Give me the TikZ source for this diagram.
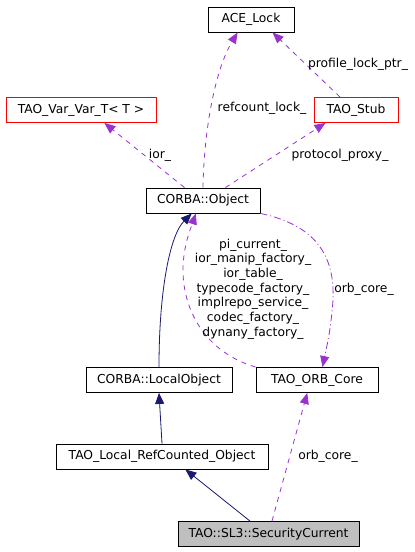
\documentclass[tikz,border=0pt]{standalone}
\usepackage{fontspec}
\setmainfont{DejaVu Sans}
\usetikzlibrary{arrows.meta}
\usetikzlibrary{positioning}
\usepackage{xcolor}
\definecolor{usepurple}{HTML}{9A32CD}
\definecolor{inhnavy}{HTML}{191970}
\definecolor{curgray}{HTML}{BFBFBF}

\begin{document}
\begin{tikzpicture}[x=1pt, y=-1pt, font=\fontsize{12.3}{14.7}\selectfont,
		cls/.style={draw, line width=0.9pt, minimum height=25pt, inner sep=0pt},
		use/.style={usepurple, line width=0.8pt, dash pattern=on 5pt off 5pt, -{Triangle[length=11pt, width=9pt]}},
		usedot/.style={usepurple, line width=0.8pt, dash pattern=on 7pt off 3pt on 1pt off 3pt, -{Triangle[length=11pt, width=9pt]}},
		inh/.style={inhnavy, line width=0.8pt, -{Triangle[length=11pt, width=9pt]}}]
			\useasboundingbox (0,0) rectangle (415,552);
			
			% classes
			\node[cls, minimum width=86pt] (lock) at (251,19.5) {ACE\_Lock};
			\node[cls, draw=red, minimum width=150pt] (varvar) at (81,110) {TAO\_Var\_Var\_T< T >};
			\node[cls, draw=red, minimum width=84pt] (stub) at (356,110) {TAO\_Stub};
			\node[cls, minimum width=114pt] (obj) at (203,200.5) {CORBA::Object};
			\node[cls, minimum width=146pt] (local) at (159,380) {CORBA::LocalObject};
			\node[cls, minimum width=122pt] (core) at (317,380) {TAO\_ORB\_Core};
			\node[cls, minimum width=212pt] (refcnt) at (162,456.5) {TAO\_Local\_RefCounted\_Object};
			\node[cls, fill=curgray, minimum width=181pt] (sec) at (268.5,534) {TAO::SL3::SecurityCurrent};
			
			% usage
			\draw[use] (obj.north) .. controls (204,130) and (215,70) .. (lock.224);
			\draw[use] (stub.141) -- (lock.329);
			\draw[use] (obj.145) -- (varvar.331);
			\draw[use] (obj.30) -- (stub.203);
			\draw[usedot] (obj.south east) .. controls (315,225) and (335,255) .. (333,300) .. controls (331,330) and (326,350) .. (core.67);
			\draw[use] (core.north west) .. controls (205,352) and (183,310) .. (183,270) .. controls (183,245) and (192,225) .. (obj.241);
			\draw[use] (sec.75) -- (core.233);
			
			% inheritance
			\draw[inh] (local.north) .. controls (159,290) and (170,235) .. (obj.229);
			\draw[inh] (refcnt.north) -- (local.south);
			\draw[inh] (sec.145) -- (refcnt.331);
			
			\node at (262,108) {refcount\_lock\_};
			\node at (358,64) {profile\_lock\_ptr\_};
			\node at (160,155) {ior\_};
			\node at (340,155) {protocol\_proxy\_};
			\node[align=center] at (253,289) {pi\_current\_\\ior\_manip\_factory\_\\ior\_table\_\\typecode\_factory\_\\implrepo\_service\_\\codec\_factory\_\\dynany\_factory\_};
			\node at (364,289) {orb\_core\_};
			\node at (328,456) {orb\_core\_};
			
		\end{tikzpicture}
\end{document}
